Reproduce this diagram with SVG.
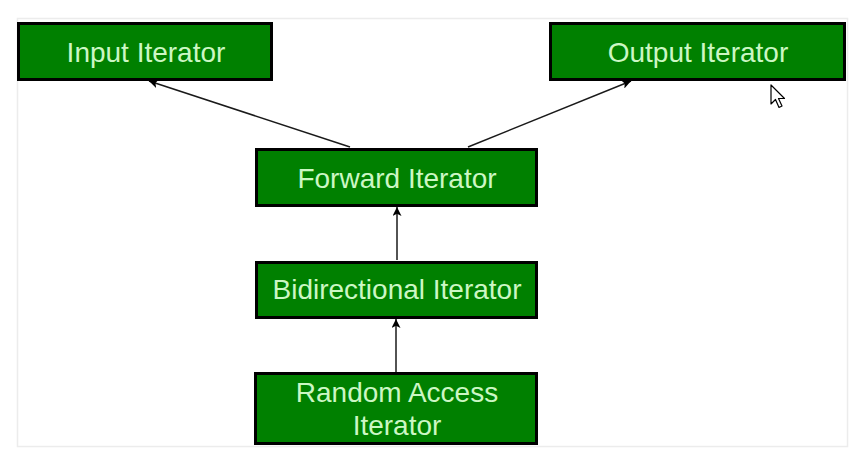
<svg xmlns="http://www.w3.org/2000/svg" width="863" height="465" viewBox="0 0 863 465">
<style>
.box{fill:#008000;stroke:#000;stroke-width:3}
.lbl{font-family:"Liberation Sans",Arial,sans-serif;font-size:28px;fill:#ccf7c4;text-anchor:middle}
.edge{stroke:#1a1a1a;stroke-width:1.5;fill:none;marker-end:url(#ah)}
</style>
<defs>
<marker id="ah" viewBox="0 0 10 10" refX="10" refY="5" markerWidth="9" markerHeight="9" markerUnits="userSpaceOnUse" orient="auto">
<path d="M0,0 L10,5 L0,10 L2.5,5 z" fill="#000"/>
</marker>
</defs>
<rect x="0" y="0" width="863" height="465" fill="#fff"/>
<rect x="17.5" y="18.5" width="830" height="428" fill="#fff" stroke="#ececec" stroke-width="1.5"/>
<g id="connectors">
<line class="edge" x1="350" y1="147" x2="149" y2="81"/>
<line class="edge" x1="468" y1="147" x2="631" y2="81"/>
<line class="edge" x1="397" y1="260" x2="397" y2="207"/>
<line class="edge" x1="396" y1="372" x2="396" y2="319"/>
</g>
<g id="input"><rect class="box" x="18.5" y="23.5" width="253" height="56"/><text class="lbl" x="146" y="62">Input Iterator</text></g>
<g id="output"><rect class="box" x="550.5" y="23.5" width="294" height="56"/><text class="lbl" x="698" y="62">Output Iterator</text></g>
<g id="forward"><rect class="box" x="256.5" y="149.5" width="280" height="56"/><text class="lbl" x="397" y="188">Forward Iterator</text></g>
<g id="bidirectional"><rect class="box" x="256.5" y="262.5" width="280" height="55"/><text class="lbl" x="397" y="299">Bidirectional Iterator</text></g>
<g id="random"><rect class="box" x="255.5" y="373.5" width="281" height="70"/><text class="lbl" x="397" y="402">Random Access</text><text class="lbl" x="397" y="435">Iterator</text></g>
<g id="cursor"><path d="M771,85 L771,104 L775.5,99.5 L779,107.5 L782,106 L778.5,98.5 L784.5,98.5 Z" fill="#fff" stroke="#000" stroke-width="1.2" stroke-linejoin="round"/></g>
</svg>
